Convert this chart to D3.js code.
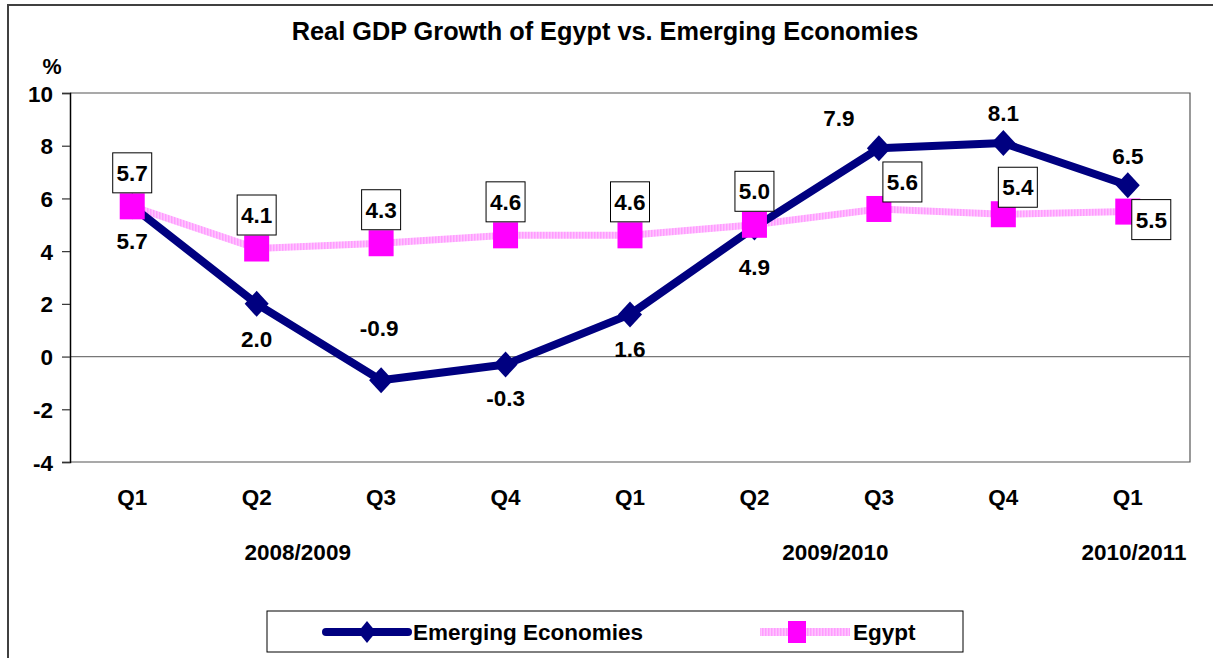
<!DOCTYPE html>
<html>
<head>
<meta charset="utf-8">
<script src="https://cdn.jsdelivr.net/npm/d3@7"></script>
<style>
  html, body { margin: 0; padding: 0; background: #fff; }
  svg { display: block; font-family: "Liberation Sans", Arial, sans-serif; font-weight: bold; }
</style>
</head>
<body>
<svg id="chart" width="1213" height="658"></svg>
<script>
// Quarterly real GDP growth, %
const quarters = ["Q1", "Q2", "Q3", "Q4", "Q1", "Q2", "Q3", "Q4", "Q1"];
const emerging = [5.7, 2.0, -0.9, -0.3, 1.6, 4.9, 7.9, 8.1, 6.5];
const egypt = [5.7, 4.1, 4.3, 4.6, 4.6, 5.0, 5.6, 5.4, 5.5];
const fiscalYears = ["2008/2009", "2009/2010", "2010/2011"];
const yTicks = [-4, -2, 0, 2, 4, 6, 8, 10];

const svg = d3.select("#chart");
const W = 1213, H = 658;
const plot = { left: 70, right: 1190, top: 93, bottom: 462 };

const navy = "#000080";
const magenta = "#ff00ff";
const FS = 22.5;

// plain hyphen for negative numbers
const fmt1 = d => d3.format(".1f")(d).replace("\u2212", "-");
const fmt0 = d => d3.format("d")(d).replace("\u2212", "-");

// outer frame
svg.append("rect")
  .attr("x", 8).attr("y", 5).attr("width", W + 10).attr("height", H + 10)
  .attr("fill", "#fff").attr("stroke", "#404040").attr("stroke-width", 2);

// striped stroke for the Egypt line
const defs = svg.append("defs");
const pat = defs.append("pattern")
  .attr("id", "pinkStripes").attr("patternUnits", "userSpaceOnUse")
  .attr("width", 3).attr("height", 3);
pat.append("rect").attr("width", 3).attr("height", 3).attr("fill", "#ffc4ff");
pat.append("rect").attr("width", 1.5).attr("height", 3).attr("fill", "#ff9cff");

const idx = quarters.map((_, i) => i);
const xBand = d3.scaleBand().domain(idx).range([plot.left, plot.right]);
const x = i => xBand(i) + xBand.bandwidth() / 2;
const y = d3.scaleLinear().domain([-4, 10]).range([plot.bottom, plot.top]);

// title
svg.append("text")
  .attr("x", 605).attr("y", 40).attr("text-anchor", "middle")
  .attr("font-size", 25.3).text("Real GDP Growth of Egypt vs. Emerging Economies");

svg.append("text")
  .attr("x", 52).attr("y", 74).attr("text-anchor", "middle")
  .attr("font-size", 21.5).text("%");

// plot-area frame (top, right, bottom)
svg.append("path")
  .attr("d", `M${plot.left},${plot.top}H${plot.right}V${plot.bottom}H${plot.left}`)
  .attr("fill", "none").attr("stroke", "#555").attr("stroke-width", 1.2);

// zero line
svg.append("line")
  .attr("x1", plot.left).attr("x2", plot.right)
  .attr("y1", y(0)).attr("y2", y(0))
  .attr("stroke", "#777").attr("stroke-width", 1.2);

// y axis
const yAxis = d3.axisLeft(y).tickValues(yTicks).tickSize(8).tickPadding(9).tickFormat(fmt0);
const gy = svg.append("g").attr("transform", `translate(${plot.left},0)`).call(yAxis);
gy.select(".domain").attr("stroke", "#000").attr("stroke-width", 1.5);
gy.selectAll(".tick line").attr("stroke", "#333").attr("stroke-width", 1.2);
gy.selectAll(".tick text")
  .attr("font-size", FS).attr("font-weight", "bold").attr("fill", "#000")
  .attr("font-family", "Liberation Sans, Arial, sans-serif").attr("dy", "0.36em");

// category labels
svg.append("g").selectAll("text").data(quarters).join("text")
  .attr("x", (d, i) => x(i)).attr("y", 505).attr("text-anchor", "middle")
  .attr("font-size", FS).text(d => d);

// fiscal-year labels, placed relative to the quarter positions
const yearAt = [1.33, 5.65, 8.05];
svg.append("g").selectAll("text").data(fiscalYears).join("text")
  .attr("x", (d, i) => x(0) + yearAt[i] * xBand.step()).attr("y", 560)
  .attr("text-anchor", "middle").attr("font-size", FS).text(d => d);

// lines
const line = d3.line().x((d, i) => x(i)).y(d => y(d));
svg.append("path").datum(egypt).attr("d", line)
  .attr("fill", "none").attr("stroke", "url(#pinkStripes)").attr("stroke-width", 7);
svg.append("path").datum(emerging).attr("d", line)
  .attr("fill", "none").attr("stroke", navy).attr("stroke-width", 8)
  .attr("stroke-linejoin", "round");

// markers
const diamond = "M0,-13L12,0L0,13L-12,0Z";
svg.append("g").selectAll("path").data(emerging).join("path")
  .attr("d", diamond).attr("fill", navy)
  .attr("transform", (d, i) => `translate(${x(i)},${y(d)})`);
svg.append("g").selectAll("rect").data(egypt).join("rect")
  .attr("x", (d, i) => x(i) - 12.5).attr("y", d => y(d) - 13)
  .attr("width", 25).attr("height", 26).attr("fill", magenta);

// Emerging Economies value labels (offset of label centre from the point)
const emOff = [[0, 35], [0, 35], [-2, -52], [0, 33], [0, 34], [0, 39], [-40, -30], [0, -30], [0, -29]];
svg.append("g").selectAll("text").data(emerging).join("text")
  .attr("x", (d, i) => x(i) + emOff[i][0]).attr("y", (d, i) => y(d) + emOff[i][1])
  .attr("dy", "0.36em").attr("text-anchor", "middle").attr("font-size", FS)
  .text(fmt1);

// Egypt value labels in boxes (offset of box top-left from the point)
const bw = 39, bh = 40;
const egOff = [[-19.5, -53.5], [-19.5, -53.5], [-19.5, -53.5], [-19.5, -53.5], [-19.5, -53.5], [-19.5, -53.5],
               [4, -47], [-5, -47], [4, -12]];
const eg = svg.append("g").selectAll("g").data(egypt).join("g")
  .attr("transform", (d, i) => `translate(${x(i) + egOff[i][0]},${y(d) + egOff[i][1]})`);
eg.append("rect").attr("width", bw).attr("height", bh)
  .attr("fill", "#fff").attr("stroke", "#000").attr("stroke-width", 1);
eg.append("text").attr("x", bw / 2).attr("y", bh / 2).attr("dy", "0.36em")
  .attr("text-anchor", "middle").attr("font-size", FS)
  .text(fmt1);

// legend
const lg = svg.append("g");
lg.append("rect").attr("x", 267).attr("y", 611).attr("width", 696).attr("height", 41)
  .attr("fill", "#fff").attr("stroke", "#000").attr("stroke-width", 1);
lg.append("line").attr("x1", 326).attr("x2", 408).attr("y1", 632).attr("y2", 632)
  .attr("stroke", navy).attr("stroke-width", 8).attr("stroke-linecap", "round");
lg.append("path").attr("d", "M0,-11L9,0L0,11L-9,0Z").attr("fill", navy)
  .attr("transform", "translate(367,632)");
lg.append("text").attr("x", 413).attr("y", 632).attr("dy", "0.36em")
  .attr("font-size", FS).text("Emerging Economies");
lg.append("line").attr("x1", 760).attr("x2", 850).attr("y1", 632).attr("y2", 632)
  .attr("stroke", "url(#pinkStripes)").attr("stroke-width", 8);
lg.append("rect").attr("x", 788).attr("y", 621).attr("width", 18).attr("height", 22)
  .attr("fill", magenta);
lg.append("text").attr("x", 853).attr("y", 632).attr("dy", "0.36em")
  .attr("font-size", FS).text("Egypt");
</script>
</body>
</html>
